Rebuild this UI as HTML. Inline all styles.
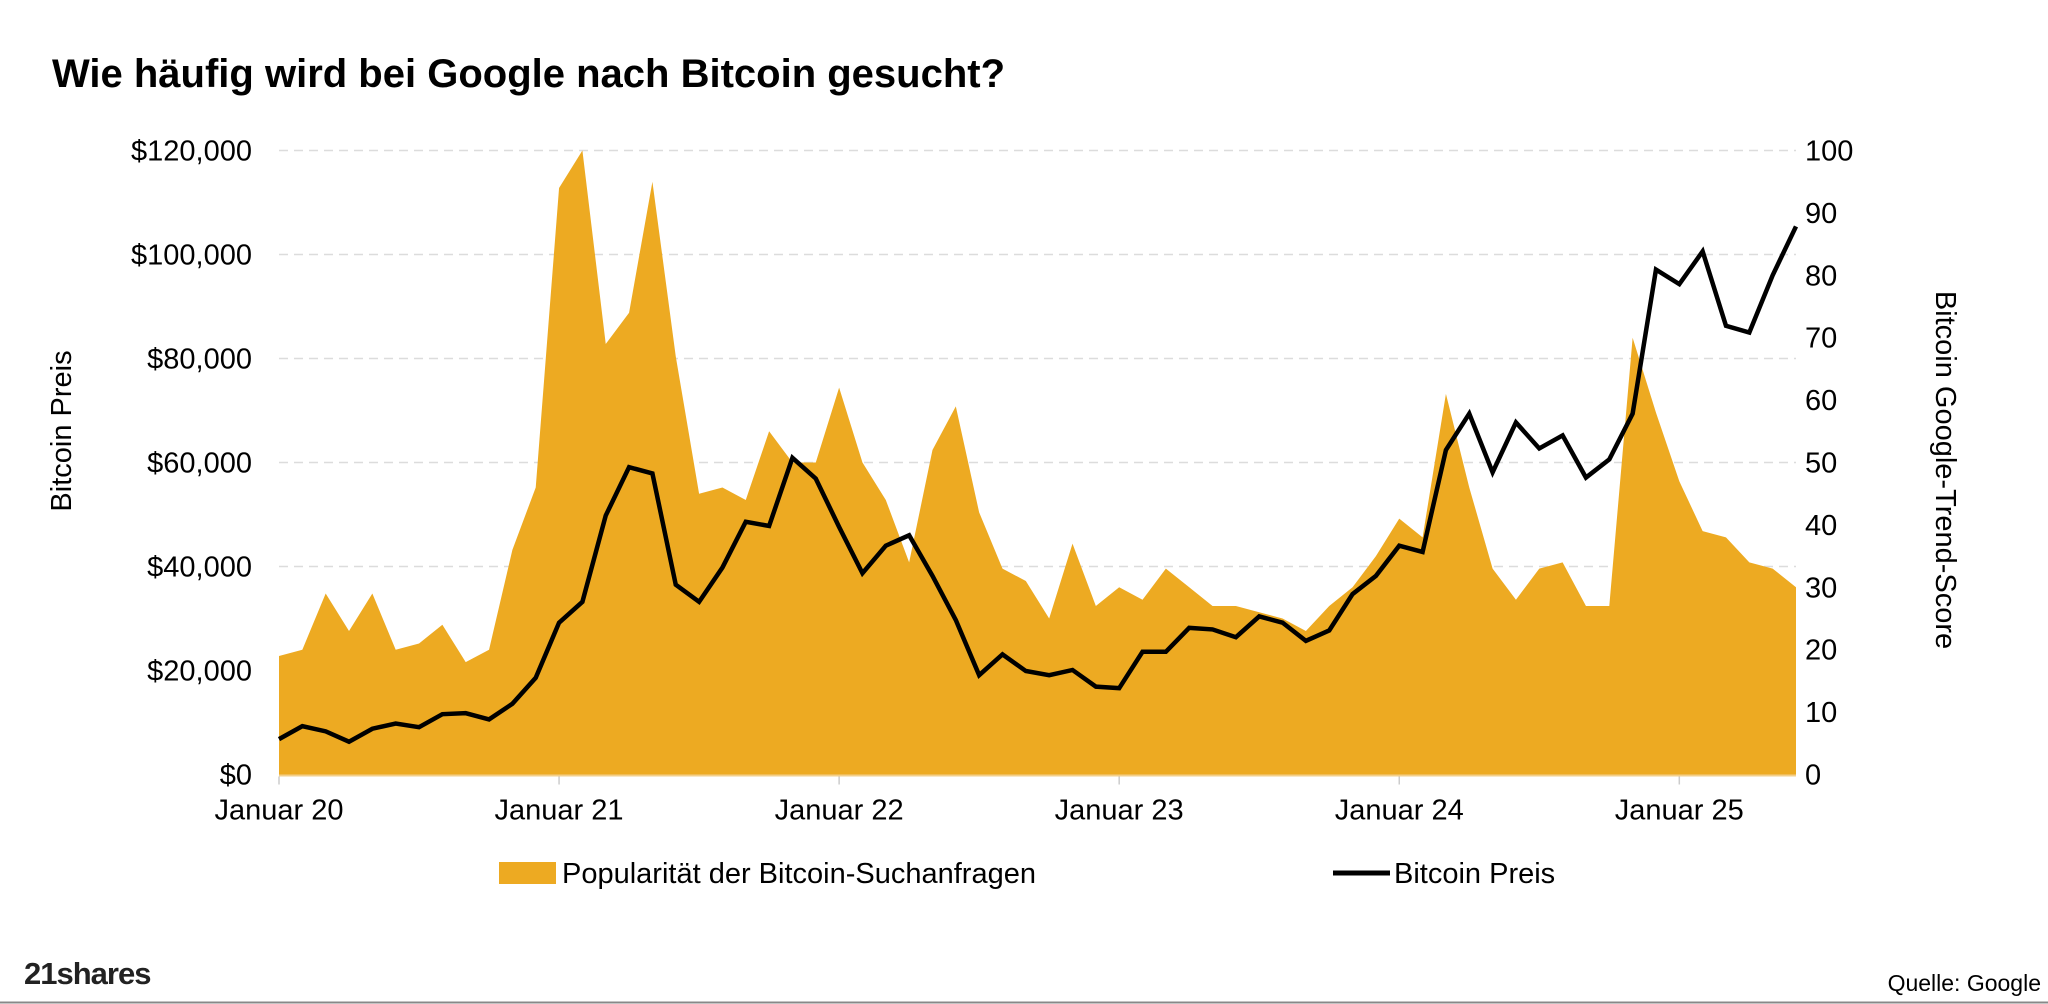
<!DOCTYPE html>
<html><head><meta charset="utf-8">
<style>
html,body{margin:0;padding:0;background:#fff;}
body{width:2048px;height:1004px;overflow:hidden;position:relative;font-family:"Liberation Sans",sans-serif;}
svg{position:absolute;left:0;top:0;}
</style></head>
<body>
<svg id="chart" width="2048" height="1004"></svg>
<script>
const months = [];
for (let y = 2020; y <= 2025; y++) for (let m = 0; m < 12; m++) { if (y === 2025 && m > 5) break; months.push(y + '-' + (m + 1)); }
const trendScore = [19,20,29,23,29,20,21,24,18,20,36,46,94,100,69,74,95,67,45,46,44,55,50,50,62,50,44,34,52,59,42,33,31,25,37,27,30,28,33,30,27,27,26,25,23,27,30,35,41,38,61,46,33,28,33,34,27,27,70,58,47,39,38,34,33,30];
const btcPrice = [6.8,9.3,8.3,6.3,8.8,9.8,9.1,11.6,11.8,10.6,13.6,18.6,29.2,33.2,49.8,59.1,57.9,36.5,33.2,39.8,48.6,47.8,60.9,56.9,47.6,38.7,44,46,38.2,29.7,19.1,23.1,19.9,19.1,20.1,16.9,16.6,23.6,23.6,28.2,27.9,26.4,30.4,29.2,25.7,27.7,34.7,38.2,44,42.8,62.4,69.4,58.1,67.7,62.7,65.2,57.1,60.6,69.4,97.1,94.3,100.6,86.3,85,96,105.4].map(v => v * 1000);
const leftTicks = [0,20000,40000,60000,80000,100000,120000];
const leftTickLabels = ["$0","$20,000","$40,000","$60,000","$80,000","$100,000","$120,000"];
const rightTicks = [0,10,20,30,40,50,60,70,80,90,100];
const xTickIdx = [0,12,24,36,48,60];
const xTickLabels = ["Januar 20","Januar 21","Januar 22","Januar 23","Januar 24","Januar 25"];

const X0 = 279, X1 = 1796, Y0 = 774.5, YT = 150.5;
const NS = 'http://www.w3.org/2000/svg';
const svg = document.getElementById('chart');
const xs = i => X0 + (X1 - X0) * i / (months.length - 1);
const yL = v => Y0 - (Y0 - YT) * v / 120000;
const yR = v => Y0 - (Y0 - YT) * v / 100;
function mk(tag, attrs, text) {
  const e = document.createElementNS(NS, tag);
  for (const k in attrs) e.setAttribute(k, attrs[k]);
  if (text !== undefined) e.textContent = text;
  svg.appendChild(e);
  return e;
}
let t = mk('text', {x: 52, y: 87, 'font-size': 40, 'font-weight': 'bold', fill: '#000'}, 'Wie häufig wird bei Google nach Bitcoin gesucht?');



leftTicks.forEach((v, i) => {
  if (v > 0) {
    const g = mk('line', {x1: X0, x2: X1, y1: yL(v), y2: yL(v), stroke: '#dcdcdc', 'stroke-width': 1.5, 'stroke-dasharray': '9,6'});
    
    
  }
  const l = mk('text', {x: 252, y: yL(v) + 10, 'font-size': 29, 'text-anchor': 'end', fill: '#000'}, leftTickLabels[i]);
  
  
});
rightTicks.forEach(v => {
  const l = mk('text', {x: 1805, y: yR(v) + 10, 'font-size': 29, fill: '#000'}, String(v));
  
  
});

let d = 'M' + xs(0) + ',' + Y0;
trendScore.forEach((v, i) => { d += ' L' + xs(i) + ',' + yR(v); });
d += ' L' + xs(trendScore.length - 1) + ',' + Y0 + ' Z';
const area = mk('path', {d: d, fill: '#EDAA22'});


const base = mk('line', {x1: X0, x2: X1, y1: Y0 + 1, y2: Y0 + 1, stroke: '#f3cf8a', 'stroke-width': 2});



xTickIdx.forEach((idx, i) => {
  const tk = mk('line', {x1: xs(idx), x2: xs(idx), y1: Y0 + 2, y2: Y0 + 10, stroke: '#ccc', 'stroke-width': 1.5});
  
  
  const l = mk('text', {x: xs(idx), y: Y0 + 45, 'font-size': 29, 'text-anchor': 'middle', fill: '#000'}, xTickLabels[i]);
  
  
});

const pts = btcPrice.map((v, i) => xs(i) + ',' + yL(v)).join(' ');
const line = mk('polyline', {points: pts, fill: 'none', stroke: '#000', 'stroke-width': 4.5, 'stroke-linejoin': 'miter'});



t = mk('text', {x: 0, y: 0, 'font-size': 29, 'text-anchor': 'middle', transform: 'translate(71,431) rotate(-90)', fill: '#000'}, 'Bitcoin Preis');


t = mk('text', {x: 0, y: 0, 'font-size': 29, 'text-anchor': 'middle', transform: 'translate(1936,470) rotate(90)', fill: '#000'}, 'Bitcoin Google-Trend-Score');



const sw = mk('rect', {x: 499, y: 862, width: 57, height: 22, fill: '#EDAA22'});


t = mk('text', {x: 562, y: 883, 'font-size': 29, fill: '#000'}, 'Popularität der Bitcoin-Suchanfragen');


const ls = mk('line', {x1: 1333, x2: 1390, y1: 873, y2: 873, stroke: '#000', 'stroke-width': 5});


t = mk('text', {x: 1394, y: 883, 'font-size': 29, fill: '#000'}, 'Bitcoin Preis');



t = mk('text', {x: 24, y: 984, 'font-size': 31, 'font-weight': 'bold', fill: '#222', 'letter-spacing': '-1'}, '21shares');


t = mk('text', {x: 2041, y: 991, 'font-size': 23, 'text-anchor': 'end', fill: '#000'}, 'Quelle: Google');


const bl = mk('line', {x1: 0, x2: 2048, y1: 1002.5, y2: 1002.5, stroke: '#888', 'stroke-width': 2});


</script>
</body></html>
